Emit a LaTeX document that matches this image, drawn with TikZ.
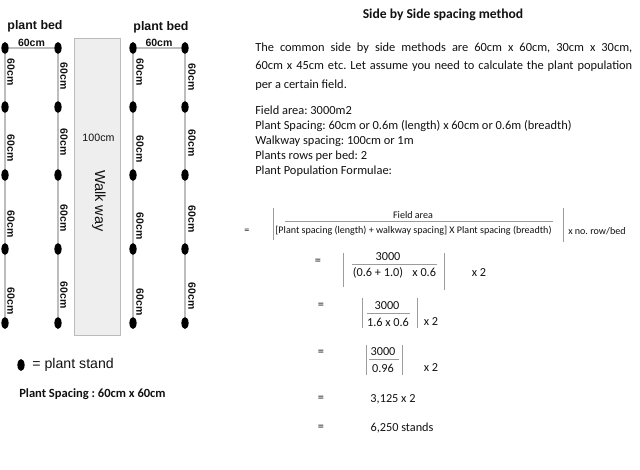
\documentclass[tikz,border=0pt]{standalone}
\usepackage{fontspec}
\setmainfont{Carlito}
\newfontfamily\arialfont{Liberation Sans}
\usetikzlibrary{positioning,shapes.geometric}
\frenchspacing
\definecolor{ink}{HTML}{111111}
\definecolor{linegray}{HTML}{BDBDBD}
\definecolor{walkfill}{HTML}{EEEEEE}
\definecolor{walkedge}{HTML}{BBBBBB}
\definecolor{bargray}{HTML}{9C9C9C}
\tikzset{
  standdot/.style={ellipse, fill=black, inner sep=0pt,
    minimum width=5.4pt, minimum height=9pt},
  rowline/.style={draw=linegray, line width=0.8pt},
  cmlabel/.style={font=\arialfont\bfseries\fontsize{7.9}{9}\selectfont,
    inner sep=0.5pt, text=ink},
  bedlabel/.style={font=\arialfont\bfseries\fontsize{9.3}{11}\selectfont, text=ink},
  walklabel/.style={font=\arialfont\fontsize{8}{10}\selectfont, text=ink},
  bodytext/.style={font=\fontsize{9.3}{13.9}\selectfont, text=ink,
    anchor=north west, inner sep=0pt},
  smallmath/.style={font=\fontsize{7.55}{9}\selectfont, text=ink, inner sep=0pt},
  calcmath/.style={font=\fontsize{9.2}{11}\selectfont, text=ink, inner sep=0pt},
  absbar/.style={draw=bargray, line width=0.7pt},
  fracbar/.style={draw=bargray, line width=0.6pt}
}
\begin{document}
\begin{tikzpicture}[x=0.75pt,y=-0.75pt]
\useasboundingbox (0,0) rectangle (640,469);

% plant beds
\node[bedlabel] (bedleft) at (35,26) {plant bed};
\node[bedlabel] (bedright) at (161,27) {plant bed};

\foreach \col/\x in {a/5,b/58,c/133,d/185}{
  \foreach \r/\y in {1/48,2/107,3/175,4/249,5/323}
    \node[standdot] (\col\r) at (\x,\y) {};
}
\foreach \col in {a,b,c,d}{
  \foreach \r/\s in {1/2,2/3,3/4,4/5}
    \draw[rowline] (\col\r) -- (\col\s);
}
\draw[rowline] (a1) -- node[cmlabel, anchor=south, yshift=0.5pt] (topleft) {60cm} (b1);
\draw[rowline] (c1) -- node[cmlabel, anchor=south, yshift=0.5pt] (topright) {60cm} (d1);

\foreach \col/\x/\ya/\yb/\yc/\yd in {a/11/72/148/224/301,b/64/76/142/218/295,
    c/140/72/149/226/302,d/192/77/143/219/296}{
  \foreach \r/\y in {1/\ya,2/\yb,3/\yc,4/\yd}
    \node[cmlabel, rotate=-90] (\col lab\r) at (\x,\y) {60cm};
}

% walk way
\path[draw=walkedge, fill=walkfill, line width=0.7pt] (74,38) rectangle (120,335);
\node[walklabel] (walkwidth) at (98.5,138) {100cm};
\node[walklabel, font=\arialfont\fontsize{10.9}{12}\selectfont, rotate=-90] (walkname) at (99,201) {Walk way};

% legend
\node[standdot] (legdot) at (21,365) {};
\node[font=\arialfont\fontsize{10.6}{12}\selectfont, text=ink, inner sep=0pt,
  right=5.5pt of legdot] (legtext) {= plant stand};
\node[font=\bfseries\fontsize{9.4}{11}\selectfont, text=ink, inner sep=0pt,
  anchor=west] (spacing) at (19,394) {Plant Spacing : 60cm x 60cm};

% method text
\node[font=\bfseries\fontsize{10.2}{12}\selectfont, text=ink] (title) at (443,15) {Side by Side spacing method};
\node[bodytext, text width=282.75pt, align=justify] (intro) at (255,42.5)
  {The common side by side methods are 60cm x 60cm, 30cm x 30cm,\linebreak
   60cm x 45cm etc. Let assume you need to calculate the plant population\linebreak
   per a certain field.};
\node[bodytext, font=\fontsize{9.3}{11.25}\selectfont, align=left] (data) at (255,105.5)
  {Field area: 3000m2\\
   Plant Spacing: 60cm or 0.6m (length) x 60cm or 0.6m (breadth)\\
   Walkway spacing: 100cm or 1m\\
   Plants rows per bed: 2\\
   Plant Population Formulae:};

% formula
\node[smallmath] (eqa) at (247,231) {=};
\node[smallmath] (numa) at (413,215) {Field area};
\node[smallmath] (dena) at (413.5,231) {[Plant spacing (length) + walkway spacing] X Plant spacing (breadth)};
\node[smallmath, anchor=west] (mula) at (568,231) {x no. row/bed};
\draw[absbar] (273,208) -- (273,240);
\draw[absbar] (563,208) -- (563,242);
\draw[fracbar] (285,221) -- (553,221);

\node[calcmath] (eqb) at (318,262) {=};
\node[calcmath] (numb) at (388,257) {3000};
\node[calcmath] (denb) at (394.5,273) {(0.6 + 1.0)\hspace{7pt}x 0.6};
\node[calcmath] (mulb) at (479,273) {x 2};
\draw[absbar] (343,253) -- (343,287);
\draw[absbar] (444,253) -- (444,290);
\draw[fracbar] (352,264) -- (437,264);

\node[calcmath] (eqc) at (321,306) {=};
\node[calcmath] (numc) at (387,306) {3000};
\node[calcmath] (denc) at (388,322) {1.6 x 0.6};
\node[calcmath] (mulc) at (431,322) {x 2};
\draw[absbar] (362,298) -- (362,328);
\draw[absbar] (417,298) -- (417,328);
\draw[fracbar] (367,313) -- (410,313);

\node[calcmath] (eqd) at (321,353) {=};
\node[calcmath] (numd) at (383,352) {3000};
\node[calcmath] (dend) at (383,368) {0.96};
\node[calcmath] (muld) at (431,368) {x 2};
\draw[absbar] (366,345) -- (366,375);
\draw[absbar] (402,345) -- (402,375);
\draw[fracbar] (369,359) -- (399,359);

\node[calcmath] (eqe) at (321,399) {=};
\node[calcmath] (prod) at (393,399) {3,125 x 2};
\node[calcmath] (eqf) at (321,428) {=};
\node[calcmath] (total) at (402,428) {6,250 stands};
\end{tikzpicture}
\end{document}
